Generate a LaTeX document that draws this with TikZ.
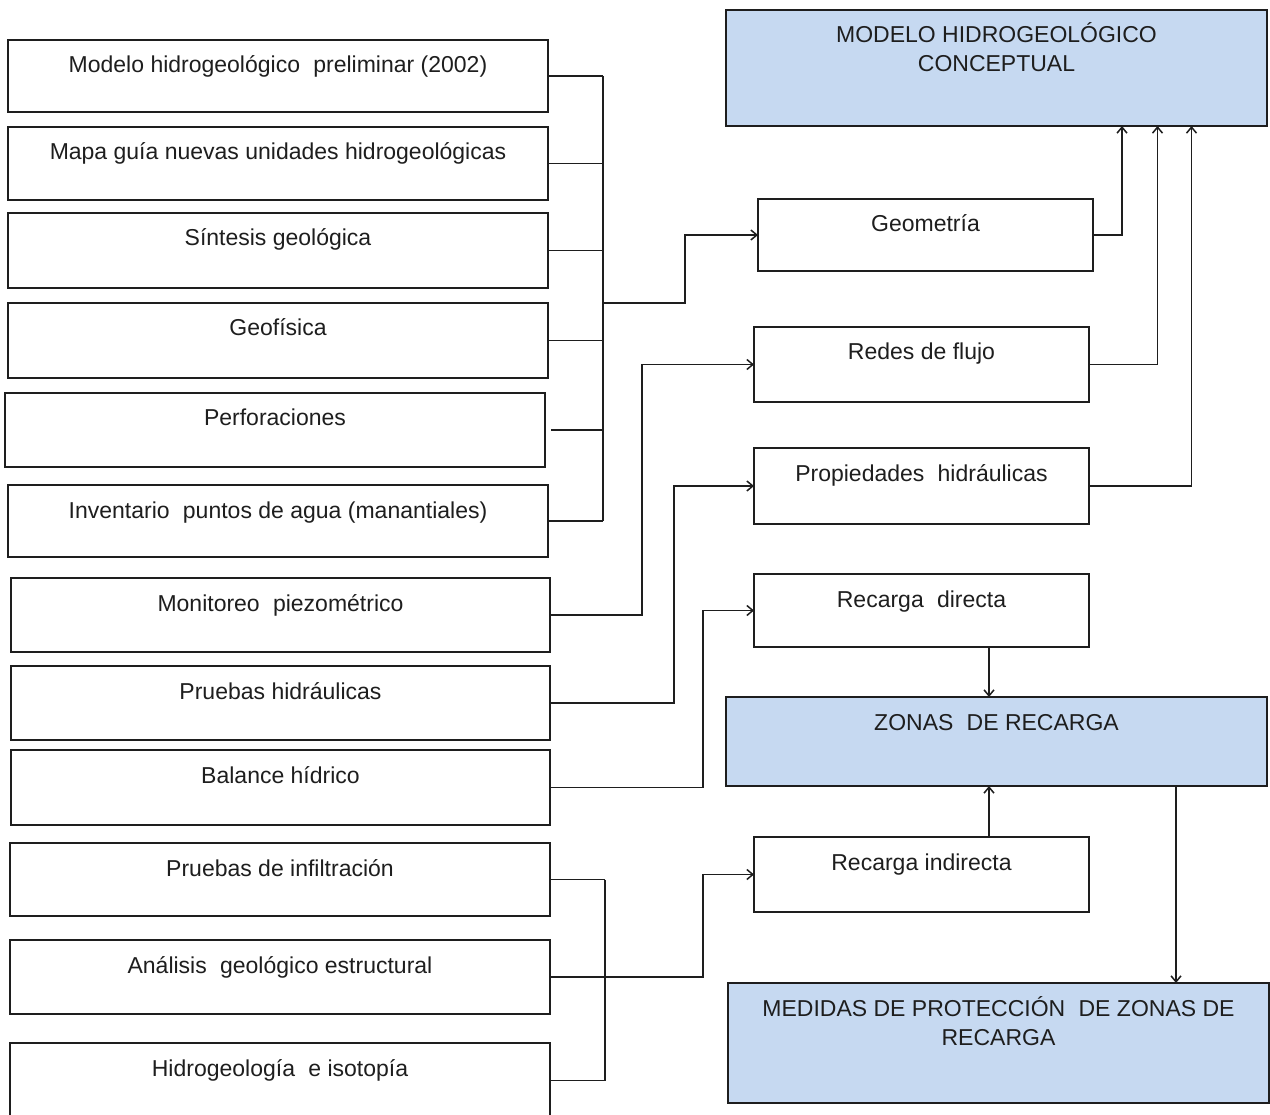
\documentclass[tikz,border=0pt]{standalone}
\usepackage{fontspec}
\setmainfont{Liberation Sans}
\usetikzlibrary{arrows.meta}
\definecolor{boxblue}{HTML}{C6D9F1}
\definecolor{ink}{HTML}{1E1E1E}
\newcommand{\diabox}[7]{%
  \node[#1, minimum width={#5-#3}, minimum height={#6-#4}] (#2) at ({(#3+#5)/2},{(#4+#6)/2}) {};
  \node[txt] (#2t) at ({(#3+#5)/2},{#4+33}) {#7};}
\newcommand{\twolines}[2]{\vtop{\halign{\hfil##\hfil\cr #1\cr #2\cr}}}
\newcommand{\wgap}{\hspace{0.3em}}
\begin{document}
\begin{tikzpicture}[x=1pt,y=-1pt,
  box/.style={draw=ink, line width=1.8pt, inner sep=0pt, outer sep=0pt, fill=white},
  bluebox/.style={box, fill=boxblue},
  txt/.style={anchor=base, inner sep=0pt, font=\fontsize{23}{29}\selectfont, text=ink},
  wire/.style={draw=ink, line width=1.6pt},
  arr/.style={wire, -{Straight Barb[length=6pt,width=10pt,line width=1.5pt]}}]
\fill[white] (0,0) rectangle (1270,1115);
\useasboundingbox (0,0) rectangle (1270,1115);
% left column
\diabox{box}{L1}{8}{40}{548}{112}{Modelo hidrogeológico\wgap{} preliminar (2002)}
\diabox{box}{L2}{8}{127}{548}{200}{Mapa guía nuevas unidades hidrogeológicas}
\diabox{box}{L3}{8}{213}{548}{288}{Síntesis geológica}
\diabox{box}{L4}{8}{303}{548}{378}{Geofísica}
\diabox{box}{L5}{5}{393}{545}{467}{Perforaciones}
\diabox{box}{L6}{8}{485}{548}{557}{Inventario\wgap{} puntos de agua (manantiales)}
\diabox{box}{L7}{11}{578}{550}{652}{Monitoreo\wgap{} piezométrico}
\diabox{box}{L8}{11}{666}{550}{740}{Pruebas hidráulicas}
\diabox{box}{L9}{11}{750}{550}{825}{Balance hídrico}
\diabox{box}{L10}{10}{843}{550}{916}{Pruebas de infiltración}
\diabox{box}{L11}{10}{940}{550}{1014}{Análisis\wgap{} geológico estructural}
\diabox{box}{L12}{10}{1043}{550}{1118}{Hidrogeología\wgap{} e isotopía}
% right column
\diabox{bluebox}{T}{726}{10}{1267}{126}{\twolines{MODELO HIDROGEOLÓGICO}{CONCEPTUAL}}
\diabox{box}{G}{758}{199}{1093}{271}{Geometría}
\diabox{box}{R}{754}{327}{1089}{402}{Redes de flujo}
\diabox{box}{P}{754}{448}{1089}{524}{Propiedades\wgap{} hidráulicas}
\diabox{box}{RD}{754}{574}{1089}{647}{Recarga\wgap{} directa}
\diabox{bluebox}{Z}{726}{697}{1267}{786}{ZONAS\wgap{} DE RECARGA}
\diabox{box}{RI}{754}{837}{1089}{912}{Recarga indirecta}
\diabox{bluebox}{M}{728}{983}{1269}{1103}{\twolines{MEDIDAS DE PROTECCIÓN\wgap{} DE ZONAS DE}{RECARGA}}
% upper bus
\coordinate (busA) at (603,0);
\coordinate (busAout) at (603,303);
\coordinate (stepA) at (685,303);
\draw[wire] (L1.east) -- (L1.east -| busA);
\draw[wire] (L2.east) -- (L2.east -| busA);
\draw[wire] (L3.east) -- (L3.east -| busA);
\draw[wire] (L4.east) -- (L4.east -| busA);
\draw[wire] ([xshift=6pt]L5.east) -- (L5.east -| busA);
\draw[wire] (L6.east) -- (L6.east -| busA);
\draw[wire] (L1.east -| busA) -- (L6.east -| busA);
\draw[arr] (busAout) -- (stepA) |- (G.west);
% single feeds
\coordinate (k7) at (642,0);
\coordinate (k8) at (674,0);
\coordinate (k9) at (703,0);
\draw[arr] (L7.east) -- (L7.east -| k7) |- (R.west);
\draw[arr] (L8.east) -- (L8.east -| k8) |- (P.west);
\draw[arr] (L9.east) -- (L9.east -| k9) |- (RD.west);
% lower bus
\coordinate (busB) at (605,0);
\coordinate (k11) at (703,0);
\draw[wire] (L10.east) -- (L10.east -| busB);
\draw[wire] (L12.east) -- (L12.east -| busB);
\draw[wire] (L10.east -| busB) -- (L12.east -| busB);
\draw[arr] (L11.east) -- (L11.east -| k11) |- (RI.west);
% to conceptual model
\draw[arr] (G.east) -| ([xshift=125.5pt]T.south);
\draw[arr] (R.east) -| ([xshift=161pt]T.south);
\draw[arr] (P.east) -| ([xshift=195pt]T.south);
% recharge
\draw[arr] ([xshift=67.5pt]RD.south) -- ([xshift=67.5pt]RD.south |- Z.north);
\draw[arr] ([xshift=67.5pt]RI.north) -- ([xshift=67.5pt]RI.north |- Z.south);
\draw[arr] ([xshift=179.5pt]Z.south) -- ([xshift=179.5pt]Z.south |- M.north);
\end{tikzpicture}
\end{document}
